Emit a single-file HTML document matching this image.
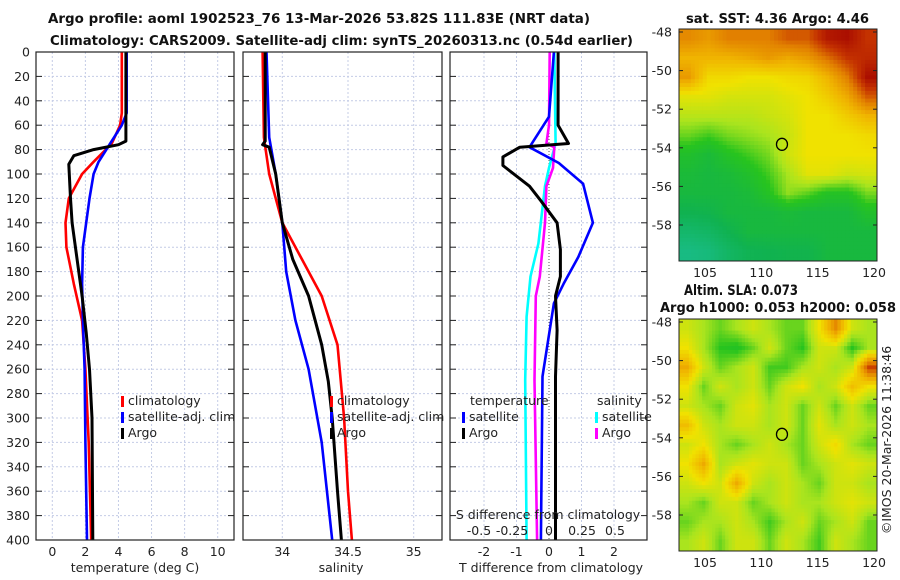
<!DOCTYPE html>
<html><head><meta charset="utf-8"><style>
body{margin:0;background:#fff}
svg{display:block;font-family:"DejaVu Sans","Liberation Sans",sans-serif}
.t{font-size:12.5px;fill:#222}
.b{font-size:13.5px;font-weight:bold;fill:#111}
</style></head><body>
<svg id="s" width="900" height="580" viewBox="0 0 900 580">
<text class="b" x="48" y="23" textLength="542" lengthAdjust="spacingAndGlyphs">Argo profile: aoml 1902523_76 13-Mar-2026 53.82S 111.83E (NRT data)</text>
<text class="b" x="50" y="45" textLength="583" lengthAdjust="spacingAndGlyphs">Climatology: CARS2009. Satellite-adj clim: synTS_20260313.nc (0.54d earlier)</text>
<text class="b" x="686" y="23" textLength="183" lengthAdjust="spacingAndGlyphs">sat. SST: 4.36 Argo: 4.46</text>
<text class="b" x="684" y="295" textLength="114" lengthAdjust="spacingAndGlyphs" style="font-size:14px">Altim. SLA: 0.073</text>
<text class="b" x="660" y="312" textLength="236" lengthAdjust="spacingAndGlyphs">Argo h1000: 0.053 h2000: 0.058</text>
<text class="t" transform="translate(891,440) rotate(-90)" text-anchor="middle" font-size="13">©IMOS 20-Mar-2026 11:38:46</text>
</svg>
<script>
const depthT=[0,55,60,73,76,80,85,92,120,140,170,200,230,260,300,400];
const argoT=[4.45,4.45,4.45,4.45,4.0,2.5,1.3,1.0,1.1,1.2,1.5,1.8,2.05,2.25,2.4,2.45];
const depthC=[0,50,60,75,90,100,120,140,160,190,220,260,320,400];
const climT=[4.2,4.2,4.1,3.6,2.5,1.8,1.0,0.8,0.85,1.3,1.8,2.0,2.2,2.35];
const satT=[4.5,4.5,4.2,3.5,2.8,2.5,2.25,2.05,1.85,1.8,1.85,1.95,2.0,2.1];
const depthS=[0,73,76,78,100,140,170,200,240,270,300,360,400];
const argoS=[33.87,33.87,33.85,33.9,33.95,34.0,34.08,34.2,34.3,34.35,34.38,34.42,34.45];
const depthSC=[0,70,100,140,170,200,240,300,360,400];
const climS=[33.85,33.86,33.9,34.0,34.15,34.3,34.42,34.47,34.5,34.53];
const satSd=[0,70,100,140,180,220,260,320,400];
const satS=[33.88,33.9,33.95,34.0,34.03,34.1,34.2,34.3,34.38];
const depthD=[0,60,75,78,86,93,110,122,140,162,184,200,228,266,400];
const argoTd=[0.28,0.28,0.6,-0.9,-1.42,-1.42,-0.6,-0.25,0.25,0.35,0.35,0.2,0.25,0.2,0.2];
const depthB=[0,53,78,91,108,140,168,190,206,266,400];
const satTd=[0.15,0,-0.6,0.3,1.05,1.35,0.9,0.45,0.15,-0.2,-0.25];
const depthCy=[0,75,95,110,157,184,217,269,400];
const satSdiff=[0.04,0.05,0,-0.03,-0.08,-0.14,-0.17,-0.18,-0.17];
const depthM=[0,60,75,78,95,110,140,184,200,269,400];
const argoSdiff=[0.005,0.0,-0.02,0.04,0.03,-0.02,-0.03,-0.07,-0.1,-0.11,-0.09];
const depthTicks=[0,20,40,60,80,100,120,140,160,180,200,220,240,260,280,300,320,340,360,380,400];
const sstGrid=[
[0.78,0.75,0.8,0.8,0.8,0.85,0.85,0.95,0.97,0.9],
[0.7,0.7,0.7,0.72,0.75,0.72,0.75,0.82,0.9,0.92],
[0.75,0.62,0.62,0.6,0.6,0.62,0.63,0.7,0.8,0.97],
[0.58,0.58,0.56,0.56,0.56,0.58,0.6,0.65,0.72,0.85],
[0.52,0.52,0.52,0.52,0.54,0.56,0.6,0.6,0.65,0.7],
[0.45,0.42,0.46,0.48,0.5,0.54,0.6,0.6,0.6,0.62],
[0.36,0.32,0.38,0.42,0.46,0.55,0.6,0.6,0.6,0.6],
[0.32,0.3,0.32,0.36,0.42,0.5,0.58,0.58,0.55,0.56],
[0.3,0.3,0.3,0.32,0.38,0.48,0.44,0.38,0.38,0.46],
[0.25,0.26,0.3,0.3,0.3,0.32,0.3,0.3,0.3,0.36],
[0.18,0.2,0.25,0.3,0.3,0.3,0.3,0.3,0.3,0.3],
[0.12,0.14,0.2,0.24,0.25,0.26,0.26,0.3,0.3,0.3]];
const slaGrid=[
[0.55,0.5,0.45,0.5,0.55,0.5,0.45,0.45,0.6,0.78,0.55,0.5],
[0.6,0.5,0.4,0.38,0.45,0.55,0.45,0.4,0.55,0.55,0.4,0.5],
[0.72,0.55,0.45,0.5,0.55,0.42,0.42,0.5,0.55,0.5,0.55,0.88],
[0.6,0.45,0.55,0.5,0.55,0.45,0.55,0.6,0.5,0.55,0.68,0.6],
[0.55,0.5,0.45,0.55,0.58,0.5,0.55,0.45,0.55,0.45,0.55,0.45],
[0.68,0.55,0.5,0.55,0.55,0.5,0.55,0.45,0.58,0.5,0.55,0.5],
[0.55,0.6,0.5,0.45,0.5,0.55,0.5,0.45,0.55,0.62,0.5,0.45],
[0.6,0.72,0.5,0.55,0.58,0.55,0.55,0.45,0.5,0.55,0.58,0.55],
[0.55,0.6,0.55,0.72,0.55,0.5,0.55,0.5,0.45,0.55,0.55,0.5],
[0.5,0.45,0.55,0.55,0.45,0.5,0.55,0.5,0.5,0.55,0.58,0.55],
[0.45,0.5,0.5,0.55,0.5,0.42,0.5,0.55,0.45,0.5,0.55,0.45],
[0.5,0.55,0.45,0.55,0.55,0.45,0.55,0.5,0.42,0.55,0.5,0.45]];

const NS='http://www.w3.org/2000/svg', S=document.getElementById('s');
function el(t,a,txt){const e=document.createElementNS(NS,t);for(const k in a)e.setAttribute(k,a[k]);if(txt!=null)e.textContent=txt;S.appendChild(e);return e;}
const Y0=52,Y1=540;
const yD=d=>Y0+(Y1-Y0)*d/400;
function panel(name,x0,x1,xs,grid){
  for(const g of grid){const gl=el('line',{x1:xs(g),x2:xs(g),y1:Y0,y2:Y1,stroke:'#c4cce6','stroke-dasharray':'2,2','stroke-width':1});
    
    }
  for(const d of depthTicks){const gl=el('line',{x1:x0,x2:x1,y1:yD(d),y2:yD(d),stroke:'#c4cce6','stroke-dasharray':'2,2','stroke-width':1});
    
    
    const t1=el('line',{x1:x0,x2:x0+6,y1:yD(d),y2:yD(d),stroke:'#222'});
    
    
    const t2=el('line',{x1:x1-6,x2:x1,y1:yD(d),y2:yD(d),stroke:'#222'});
    
    }
}
function frame(name,x0,x1){const r=el('rect',{x:x0,y:Y0,width:x1-x0,height:Y1-Y0,fill:'none',stroke:'#222','stroke-width':1.2});
  
  }
function line(name,xs,vals,deps,col,w){
  const p=vals.map((v,i)=>xs(v).toFixed(1)+','+yD(deps[i]).toFixed(1)).join(' ');
  const e=el('polyline',{points:p,fill:'none',stroke:col,'stroke-width':w||2.6,'stroke-linejoin':'round'});
  
  }
function txt(name,x,y,s,anchor,cls){const e=el('text',{x:x,y:y,class:cls||'t','text-anchor':anchor||'start'},s);
  
  return e;}
function leg(name,x,y,col,label){const r=el('rect',{x:x,y:y-9,width:3,height:11,fill:col});
  
  
  if(label)txt(name+'-label',x+7,y,label);}

// Panel 1: temperature
const xT=v=>52.3+16.54*v;
panel('temp-panel',36,234,xT,[0,2,4,6,8,10]);
line('temp-climatology',xT,climT,depthC,'#f00');
line('temp-satellite-adj',xT,satT,depthC,'#00f');
line('temp-argo',xT,argoT,depthT,'#000',3);
frame('temp-panel',36,234);
for(const d of depthTicks)txt('depth-tick-label',30,yD(d)+4.5,String(d),'end');
for(const v of [0,2,4,6,8,10])txt('temp-xtick-label',xT(v),556,String(v),'middle');
txt('temp-x-axis-title',135,572,'temperature (deg C)','middle');
leg('legend-climatology',121,405,'#f00','climatology');
leg('legend-satellite-adj',121,421,'#00f','satellite-adj. clim');
leg('legend-argo',121,437,'#000','Argo');

// Panel 2: salinity
const xS=v=>282.3+131.4*(v-34);
panel('sal-panel',243,442,xS,[34,34.5,35]);
line('sal-climatology',xS,climS,depthSC,'#f00');
line('sal-satellite-adj',xS,satS,satSd,'#00f');
line('sal-argo',xS,argoS,depthS,'#000',3);
frame('sal-panel',243,442);
for(const v of [34,34.5,35])txt('sal-xtick-label',xS(v),556,String(v),'middle');
txt('sal-x-axis-title',341,572,'salinity','middle');
leg('sal-legend-climatology',330,405,'#f00','climatology');
leg('sal-legend-satellite-adj',330,421,'#00f','satellite-adj. clim');
leg('sal-legend-argo',330,437,'#000','Argo');

// Panel 3: differences
const xTd=v=>549+32.5*v, xSd=v=>549+132*v;
panel('diff-panel',450,647,xTd,[-2,-1,1,2]);
const z=el('line',{x1:549,x2:549,y1:Y0,y2:Y1,stroke:'#555','stroke-dasharray':'1,2'});


line('sal-diff-satellite',xSd,satSdiff,depthCy,'#0ff');
line('sal-diff-argo',xSd,argoSdiff,depthM,'#f0f');
line('temp-diff-satellite',xTd,satTd,depthB,'#00f');
line('temp-diff-argo',xTd,argoTd,depthD,'#000',3);
frame('diff-panel',450,647);
for(const v of [-2,-1,0,1,2])txt('tdiff-xtick-label',xTd(v),556,String(v),'middle');
txt('tdiff-x-axis-title',551,572,'T difference from climatology','middle');
txt('sdiff-axis-title',548,519,'S difference from climatology','middle');
const sl=[['-0.5',-0.5],['-0.25',-0.25],['0',0],['0.25',0.25],['0.5',0.5]];
for(const [s,v] of sl)txt('sdiff-tick-label',xSd(v)-(v<0?4:0),535,s,'middle');
txt('legend-temperature-heading',470,405,'temperature');
leg('legend-tdiff-satellite',462,421,'#00f','satellite');
leg('legend-tdiff-argo',462,437,'#000','Argo');
txt('legend-salinity-heading',597,405,'salinity');
leg('legend-sdiff-satellite',595,421,'#0ff','satellite');
leg('legend-sdiff-argo',595,437,'#f0f','Argo');

// Maps
const stops=[[0,[32,196,176]],[0.25,[16,178,80]],[0.4,[40,196,30]],[0.5,[170,228,30]],[0.6,[240,226,0]],[0.7,[240,180,0]],[0.8,[226,128,0]],[0.9,[196,50,0]],[1,[160,0,0]]];
function cmap(v){for(let i=1;i<stops.length;i++){if(v<=stops[i][0]){const a=stops[i-1],b=stops[i],t=(v-a[0])/(b[0]-a[0]);return 'rgb('+a[1].map((c,k)=>Math.round(c+(b[1][k]-c)*t)).join(',')+')';}}return 'rgb(160,0,0)';}
function sample(grid,fr,fc){const R=grid.length,C=grid[0].length;
  fr=Math.max(0,Math.min(R-1,fr));fc=Math.max(0,Math.min(C-1,fc));
  const r0=Math.floor(fr),c0=Math.floor(fc),r1=Math.min(R-1,r0+1),c1=Math.min(C-1,c0+1),tr=fr-r0,tc=fc-c0;
  return (grid[r0][c0]*(1-tc)+grid[r0][c1]*tc)*(1-tr)+(grid[r1][c0]*(1-tc)+grid[r1][c1]*tc)*tr;}
const MX0=679,MX1=877;
const lonX=l=>705+11.27*(l-105);
function map(name,gy0,grid){
  const gy1=gy0+232, rows=grid.length, cols=grid[0].length, SUB=5;
  const NR=rows*SUB, NC=cols*SUB, cw=(MX1-MX0)/NC, ch=(gy1-gy0)/NR;
  for(let r=0;r<NR;r++)for(let c=0;c<NC;c++){
    const v=sample(grid,(r+0.5)/SUB-0.5,(c+0.5)/SUB-0.5);
    const e=el('rect',{x:(MX0+c*cw).toFixed(2),y:(gy0+r*ch).toFixed(2),width:(cw+0.5).toFixed(2),height:(ch+0.5).toFixed(2),fill:cmap(v)});
    
    }
  const latY=l=>gy0+3+19.3*(-48-l);
  for(const l of [-48,-50,-52,-54,-56,-58]){txt(name+'-lat-label',672,latY(l)+4.5,String(l),'end');
    const t=el('line',{x1:MX0,x2:MX0+4,y1:latY(l),y2:latY(l),stroke:'#222'});
    
    
    const t2=el('line',{x1:MX1-4,x2:MX1,y1:latY(l),y2:latY(l),stroke:'#222'});
    
    }
  for(const l of [105,110,115,120])txt(name+'-lon-label',lonX(l),gy1+16,String(l),'middle');
  const f=el('rect',{x:MX0,y:gy0,width:MX1-MX0,height:gy1-gy0,fill:'none',stroke:'#222'});
  
  
  const m=el('ellipse',{cx:lonX(111.83),cy:latY(-53.82),rx:5.5,ry:6,fill:'none',stroke:'#000','stroke-width':1.3});
  
  
}
map('sst-map',29,sstGrid);
map('sla-map',319,slaGrid);
</script>
</body></html>
